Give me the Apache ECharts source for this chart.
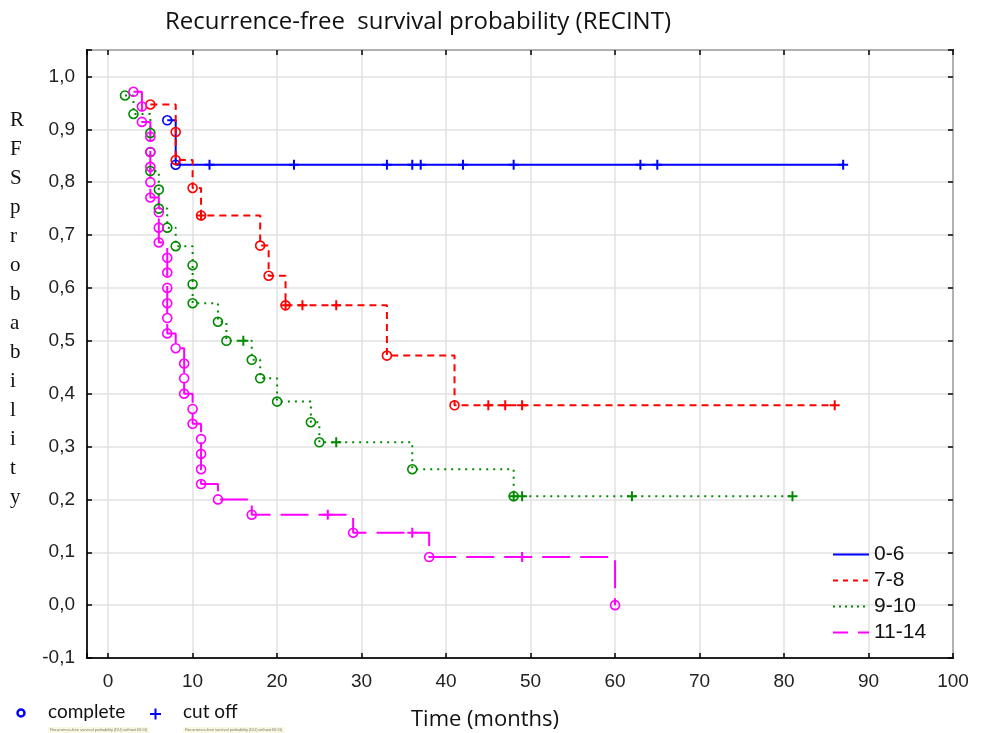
<!DOCTYPE html>
<html>
<head>
<meta charset="utf-8">
<script src="https://cdn.jsdelivr.net/npm/echarts@6/dist/echarts.min.js"></script>
<style>
    html, body { margin: 0; padding: 0; background: #fff; }
    #main { width: 984px; height: 733px; }
</style>
</head>
<body>
<div id="main"></div>
<script>
// 分组名称
var groupNames = ['0-6', '7-8', '9-10', '11-14'];
var groupColors = ['#0000ff', '#ff0000', '#008a00', '#ff00ff'];

// 0-6 组: 事件时间 / 生存率 / 删失时间
var g1EventTime = [7, 8];
var g1EventSurv = [0.917, 0.833];
var g1CensTime = [12, 22, 33, 36, 37, 42, 48, 63, 65, 87];

// 7-8 组
var g2EventTime = [5, 8, 8, 10, 11, 18, 19, 21, 33, 41];
var g2EventSurv = [0.947, 0.895, 0.842, 0.789, 0.737, 0.680, 0.623, 0.567, 0.472, 0.378];
var g2CensTime = [11, 21, 23, 27, 45, 47, 49, 86];

// 9-10 组
var g3EventTime = [2, 3, 5, 5, 5, 6, 6, 7, 8, 10, 10, 10, 13, 14, 17, 18, 20, 24, 25, 36, 48];
var g3EventSurv = [0.964, 0.929, 0.893, 0.857, 0.821, 0.786, 0.750, 0.714, 0.679, 0.643, 0.607, 0.571,
                   0.536, 0.500, 0.464, 0.429, 0.385, 0.346, 0.308, 0.257, 0.206];
var g3CensTime = [16, 27, 48, 49, 62, 81];

// 11-14 组
var g4EventTime = [3, 4, 4, 5, 5, 5, 5, 5, 6, 6, 6, 7, 7, 7, 7, 7, 7, 8, 9, 9, 9, 10, 10,
                   11, 11, 11, 11, 13, 17, 29, 38, 60];
var g4EventSurv = [0.971, 0.943, 0.914, 0.886, 0.857, 0.829, 0.800, 0.771, 0.743, 0.714, 0.686,
                   0.657, 0.629, 0.600, 0.571, 0.543, 0.514, 0.486, 0.457, 0.429, 0.400, 0.371, 0.343,
                   0.314, 0.286, 0.257, 0.229, 0.200, 0.171, 0.137, 0.091, 0.0];
var g4CensTime = [26, 36, 49];

// 坐标轴
var xMin = -2.5, xMax = 100;
var yMin = -0.1, yMax = 1.05;

var groups = [
    { time: g1EventTime, surv: g1EventSurv, cens: g1CensTime, dash: 'solid' },
    { time: g2EventTime, surv: g2EventSurv, cens: g2CensTime, dash: [7, 5] },
    { time: g3EventTime, surv: g3EventSurv, cens: g3CensTime, dash: [2, 5] },
    { time: g4EventTime, surv: g4EventSurv, cens: g4CensTime, dash: [28, 10] }
];

// 删失点所在的生存率 (该时间之前最后一个事件的值)
function levelAt(g, t) {
    var s = 1;
    for (var i = 0; i < g.time.length; i++) {
        if (g.time[i] <= t) s = g.surv[i];
    }
    return s;
}

var series = [];
var plusPath = 'path://M4,0h2v4h4v2h-4v4h-2v-4h-4v-2h4z';

groups.forEach(function (g, k) {
    var events = g.time.map(function (t, i) { return [t, g.surv[i]]; });
    var cens = g.cens.map(function (t) { return [t, levelAt(g, t)]; });
    var all = events.concat(cens).sort(function (a, b) {
        return a[0] - b[0] || b[1] - a[1];
    });

    series.push({
        name: groupNames[k],
        type: 'line',
        step: 'end',
        symbol: 'none',
        data: all,
        itemStyle: { color: groupColors[k] },
        lineStyle: { color: groupColors[k], width: 2, type: g.dash },
        z: 2
    });
    series.push({
        name: groupNames[k] + ' complete',
        type: 'scatter',
        symbol: 'circle',
        symbolSize: 9,
        data: events,
        itemStyle: { color: 'rgba(255,255,255,0)', borderColor: groupColors[k], borderWidth: 1.6, opacity: 1 },
        z: 3
    });
    series.push({
        name: groupNames[k] + ' cut off',
        type: 'scatter',
        symbol: plusPath,
        symbolSize: 10,
        data: cens,
        itemStyle: { color: groupColors[k], opacity: 1 },
        z: 4
    });
});

function fmtX(v) {
    return (v % 10 === 0) ? String(v) : '';
}
function fmtY(v) {
    if (Math.abs(v * 10 - Math.round(v * 10)) > 1e-6) return '';
    return v.toFixed(1).replace('.', ',');
}

var myChart = echarts.init(document.getElementById('main'));

var tickStyle = { show: true, inside: true, length: 5, lineStyle: { color: '#000', width: 1.5 } };

var option = {
    animation: false,
    backgroundColor: '#fff',
    title: {
        text: 'Recurrence-free  survival probability (RECINT)',
        left: 413,
        top: 5,
        textAlign: 'center',
        textStyle: { fontFamily: 'Open Sans', fontSize: 24, fontWeight: 'normal', color: '#111' }
    },
    legend: {
        data: [
            { name: '0-6' },
            { name: '7-8', lineStyle: { type: [5, 5] } },
            { name: '9-10', lineStyle: { type: [2, 4] } },
            { name: '11-14', lineStyle: { type: [15, 10] } }
        ],
        orient: 'vertical',
        left: 827,
        top: 539,
        itemWidth: 36,
        itemHeight: 20,
        itemGap: 5,
        itemStyle: { opacity: 0 },
        textStyle: { fontFamily: 'Liberation Sans', fontSize: 21, color: '#111', lineHeight: 20 }
    },
    grid: {
        left: 87, right: 31, top: 50, bottom: 75,
        show: true, borderColor: '#222', borderWidth: 2
    },
    xAxis: [{
        type: 'value',
        min: xMin, max: xMax,
        splitNumber: 10,
        axisLine: { show: true, onZero: false, lineStyle: { color: '#222', width: 2 } },
        axisTick: tickStyle,
        axisLabel: { formatter: fmtX, margin: 14, fontFamily: 'Liberation Sans', fontSize: 19, color: '#222' },
        splitLine: { show: true, lineStyle: { color: '#e2e2e2', width: 1.5 } }
    }, {
        type: 'value',
        position: 'top',
        min: xMin, max: xMax,
        splitNumber: 10,
        axisLine: { show: false, onZero: false },
        axisTick: tickStyle,
        axisLabel: { show: false },
        splitLine: { show: false }
    }],
    yAxis: [{
        type: 'value',
        min: yMin, max: yMax,
        interval: 0.1,
        axisLine: { show: true, onZero: false, lineStyle: { color: '#222', width: 2 } },
        axisTick: tickStyle,
        axisLabel: { formatter: fmtY, margin: 12, fontFamily: 'Liberation Sans', fontSize: 19, color: '#222' },
        splitLine: { show: true, lineStyle: { color: '#e2e2e2', width: 1.5 } }
    }, {
        type: 'value',
        position: 'right',
        min: yMin, max: yMax,
        interval: 0.1,
        axisLine: { show: false, onZero: false },
        axisTick: tickStyle,
        axisLabel: { show: false },
        splitLine: { show: false }
    }],
    graphic: [
        {
            type: 'text', left: 10, top: 106,
            style: {
                text: 'R\nF\nS\np\nr\no\nb\na\nb\ni\nl\ni\nt\ny',
                font: '21px "Liberation Serif"', lineHeight: 29,
                fill: '#111', align: 'center', width: 24
            }
        },
        {
            type: 'text', x: 485, y: 720,
            style: { text: 'Time (months)', font: '22px "Open Sans"', fill: '#111', align: 'center', verticalAlign: 'middle' }
        },
        // 底部图例
        {
            type: 'circle', shape: { cx: 21, cy: 713, r: 3.5 },
            style: { fill: 'none', stroke: '#0000ff', lineWidth: 2.5 }
        },
        {
            type: 'text', x: 48, y: 712,
            style: { text: 'complete', font: '19px Lato', fill: '#111', verticalAlign: 'middle' }
        },
        {
            type: 'line', shape: { x1: 150, y1: 714, x2: 161, y2: 714 },
            style: { stroke: '#0000ff', lineWidth: 2 }
        },
        {
            type: 'line', shape: { x1: 155.5, y1: 708.5, x2: 155.5, y2: 719.5 },
            style: { stroke: '#0000ff', lineWidth: 2 }
        },
        {
            type: 'text', x: 183, y: 712,
            style: { text: 'cut off', font: '19px Lato', fill: '#111', verticalAlign: 'middle' }
        },
        {
            type: 'text', x: 48, y: 727,
            style: { text: 'Recurrence-free survival probability (DU) without BCG)', font: '4px "Liberation Sans"', fill: '#777', backgroundColor: '#fbf8e0', padding: [1, 2] }
        },
        {
            type: 'text', x: 183, y: 727,
            style: { text: 'Recurrence-free survival probability (DU) without BCG)', font: '4px "Liberation Sans"', fill: '#777', backgroundColor: '#fbf8e0', padding: [1, 2] }
        }
    ],
    series: series
};

myChart.setOption(option);
</script>
</body>
</html>
